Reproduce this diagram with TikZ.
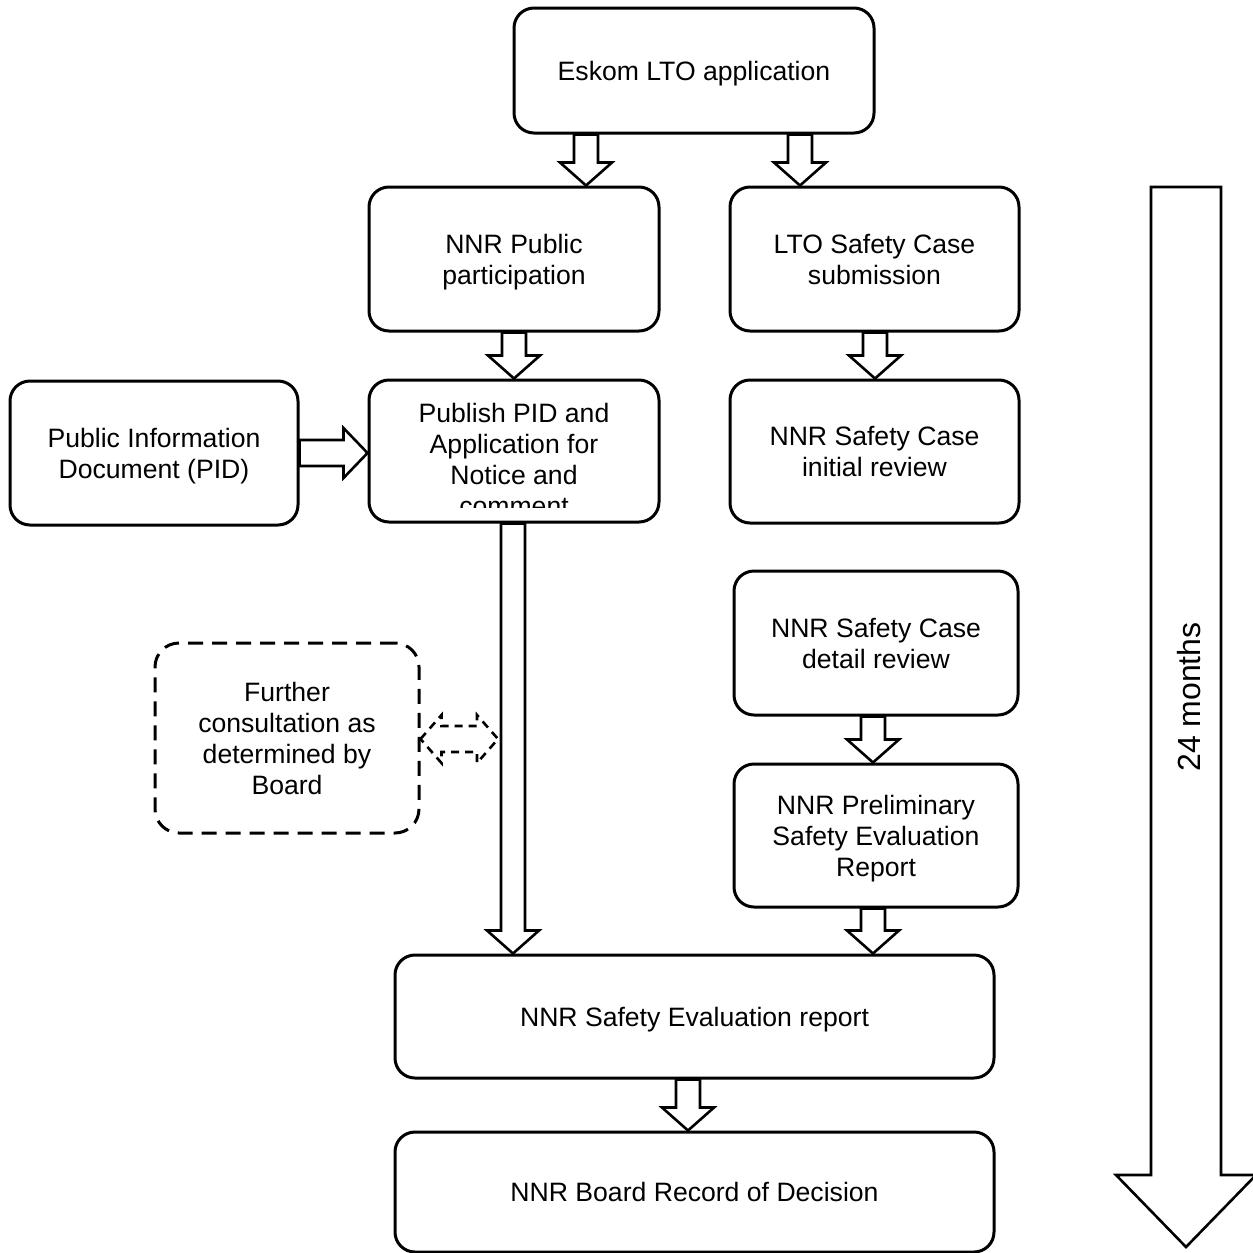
\documentclass[tikz,border=0pt]{standalone}
\usepackage{fontspec}
\setmainfont{Liberation Sans}
\usetikzlibrary{calc}

% block arrow pointing down: x position, from node, to node
\newcommand{\fatdown}[3]{%
  \draw[fatarrow] let \p3=(#1,0), \p1=(#2.south), \p2=(#3.north) in
    (\x3-6pt,\y1) -- (\x3-6pt,\y2+11.5pt) -- (\x3-13pt,\y2+11.5pt) -- (\x3,\y2)
    -- (\x3+13pt,\y2+11.5pt) -- (\x3+6pt,\y2+11.5pt) -- (\x3+6pt,\y1) -- cycle;}
% block arrow pointing right: y position, from node, to node
\newcommand{\fatright}[3]{%
  \draw[fatarrow] let \p3=(0,#1), \p1=(#2.east), \p2=(#3.west) in
    (\x1,\y3+6.5pt) -- (\x2-12pt,\y3+6.5pt) -- (\x2-12pt,\y3+12.5pt) -- (\x2,\y3)
    -- (\x2-12pt,\y3-12.5pt) -- (\x2-12pt,\y3-6.5pt) -- (\x1,\y3-6.5pt) -- cycle;}

\begin{document}
\begin{tikzpicture}[x=0.5pt, y=-0.5pt, font=\fontsize{13.3pt}{15.5pt}\selectfont,
  box/.style={draw, rounded corners=10pt, line width=1.5pt, align=center, inner sep=0pt, text depth=0pt},
  fatarrow/.style={draw, fill=white, line width=1.3pt, line join=miter},
  dashbox/.style={box, rounded corners=12pt, dash pattern=on 7.5pt off 4.5pt}]
	\useasboundingbox (0,0) rectangle (1253,1253);

	% top row
	\node[box, minimum width=180pt, minimum height=62.5pt] (eskom) at (694,70.5) {Eskom LTO application};
	\node[box, minimum width=145pt, minimum height=72pt] (npp) at (514,259) {NNR Public\\participation};
	\node[box, minimum width=144.5pt, minimum height=72pt] (lto) at (874.5,259) {LTO Safety Case\\submission};

	% public side
	\node[box, minimum width=144pt, minimum height=72pt] (pid) at (154,453) {Public Information\\Document (PID)};
	\node[box, minimum width=145pt, minimum height=71pt] (publish) at (514,451) {};
	\begin{scope}
		\clip (372,388) rectangle (656,507);
		\node[align=center, inner sep=0pt] (publishtext) at (514,459.5) {Publish PID and\\Application for\\Notice and\\comment};
	\end{scope}
	\node[dashbox, minimum width=132pt, minimum height=95pt] (further) at (287,738) {Further\\consultation as\\determined by\\Board};
	\coordinate (consult) at (498,739);

	% safety case side
	\node[box, minimum width=144.5pt, minimum height=71.5pt] (initial) at (874.5,451.5) {NNR Safety Case\\initial review};
	\node[box, minimum width=142pt, minimum height=72pt] (detail) at (876,643) {NNR Safety Case\\detail review};
	\node[box, minimum width=142pt, minimum height=71.5pt] (prelim) at (876,835.5) {NNR Preliminary\\Safety Evaluation\\Report};

	% bottom
	\node[box, minimum width=299.5pt, minimum height=61.5pt] (sereport) at (694.5,1016.5) {NNR Safety Evaluation report};
	\node[box, minimum width=299.5pt, minimum height=60pt] (board) at (694.5,1192) {NNR Board Record of Decision};

	% block arrows
	\fatdown{586}{eskom}{npp}
	\fatdown{800}{eskom}{lto}
	\fatdown{514}{npp}{publish}
	\fatdown{875}{lto}{initial}
	\fatright{453}{pid}{publish}
	\fatdown{513}{publish}{sereport}
	\fatdown{873}{detail}{prelim}
	\fatdown{873}{prelim}{sereport}
	\fatdown{688}{sereport}{board}

	% dashed two-way arrow
	\draw[fatarrow, dash pattern=on 4pt off 3pt] let \p1=(further.east), \p2=(consult) in
		(\x1,\y2) -- (\x1+10.5pt,\y2+12pt) -- (\x1+10.5pt,\y2+6.5pt) -- (\x2-10.5pt,\y2+6.5pt)
		-- (\x2-10.5pt,\y2+12pt) -- (\x2,\y2) -- (\x2-10.5pt,\y2-12pt) -- (\x2-10.5pt,\y2-6.5pt)
		-- (\x1+10.5pt,\y2-6.5pt) -- (\x1+10.5pt,\y2-12pt) -- cycle;

	% time arrow
	\draw[fatarrow] (1151,187) -- (1221,187) -- (1221,1175) -- (1256,1175) -- (1186,1247)
		-- (1116,1175) -- (1151,1175) -- cycle;
	\node[rotate=90, font=\fontsize{16pt}{19pt}\selectfont] (months) at (1189,697) {24 months};
\end{tikzpicture}
\end{document}
